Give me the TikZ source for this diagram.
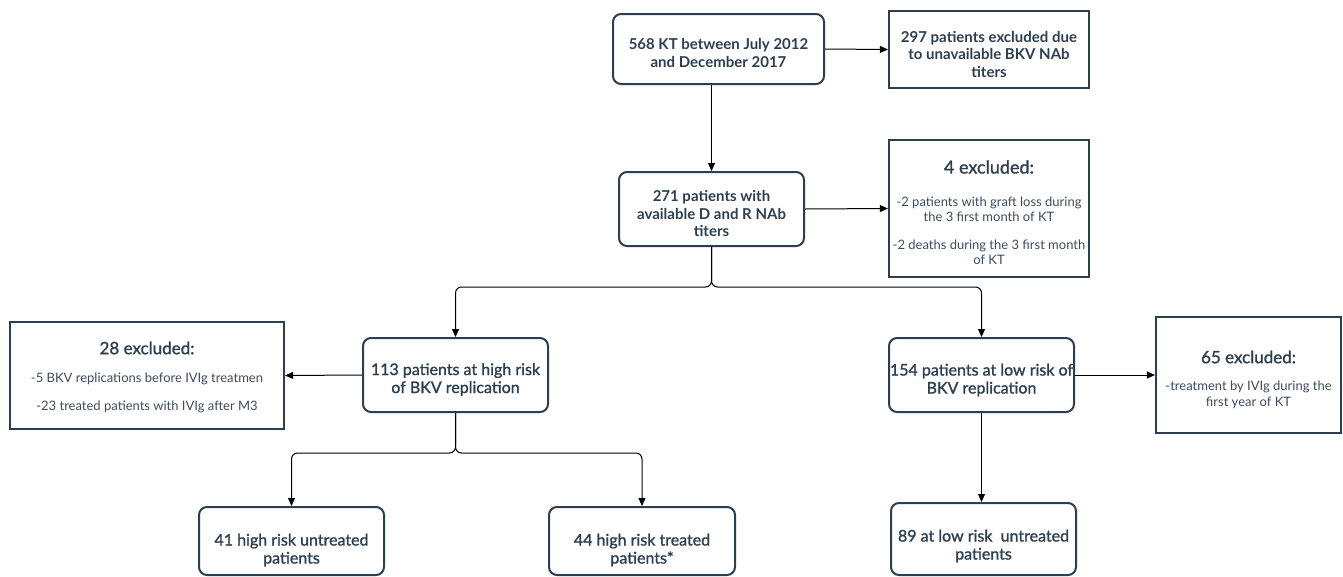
\documentclass[tikz,border=0pt]{standalone}
\usepackage{fontspec}
\setmainfont{Lato}
\newfontfamily\medfont[FakeBold=1.2]{Lato}
\usetikzlibrary{arrows.meta}
\definecolor{navy}{HTML}{2C3E50}
\definecolor{slate}{HTML}{3E4C5E}
\begin{document}
\begin{tikzpicture}[x=1pt,y=-1pt,
  rbox/.style={draw=navy, line width=2pt, rounded corners=8pt, inner sep=0pt},
  sbox/.style={draw=navy, line width=2.2pt, inner sep=0pt},
  btxt/.style={text=navy, align=center, font=\fontsize{15}{17.5}\selectfont\bfseries, inner sep=0pt},
  mtxt/.style={text=navy, align=center, font=\fontsize{16}{18}\selectfont\medfont, inner sep=0pt},
  head/.style={text=navy, font=\fontsize{17}{20}\selectfont\medfont, inner sep=0pt},
  body/.style={text=slate, align=center, font=\fontsize{13}{15.5}\selectfont, inner sep=0pt},
  arr/.style={-{Triangle[length=8pt,width=7pt]}, line width=1pt, black}]
\useasboundingbox (0,0) rectangle (1343,576);

% boxes
\node[rbox, minimum width=211, minimum height=70] (b1) at (718.5,49) {};
\node[sbox, minimum width=200, minimum height=77] (b2) at (989,49.5) {};
\node[rbox, minimum width=185, minimum height=74] (b3) at (711.5,209) {};
\node[sbox, minimum width=200, minimum height=137] (b4) at (989,208.5) {};
\node[sbox, minimum width=274, minimum height=107] (b5) at (147,375.5) {};
\node[rbox, minimum width=185, minimum height=74] (b6) at (455.5,375) {};
\node[rbox, minimum width=185, minimum height=74] (b7) at (981.5,375) {};
\node[sbox, minimum width=185, minimum height=116] (b8) at (1248.5,375) {};
\node[rbox, minimum width=185, minimum height=68] (b9) at (291.5,541) {};
\node[rbox, minimum width=186, minimum height=68] (b10) at (642,541) {};
\node[rbox, minimum width=185, minimum height=72] (b11) at (983.5,539) {};

% texts
\node[btxt] (t1) at (718.5,53) {568 KT between July 2012\\and December 2017};
\node[btxt] (t2) at (989,54) {297 patients excluded due\\to unavailable BKV NAb\\titers};
\node[btxt] (t3) at (711.5,213.5) {271 patients with\\available D and R NAb\\titers};
\node[mtxt] (t6) at (455.5,379.5) {113 patients at high risk\\of BKV replication};
\node[mtxt] (t7) at (981.5,380) {154 patients at low risk of\\BKV replication};
\node[mtxt] (t9) at (291.5,550) {41 high risk untreated\\patients};
\node[mtxt] (t10) at (642,550) {44 high risk treated\\patients*};
\node[mtxt] (t11) at (983.5,546) {89 at low risk\ \ untreated\\patients};

\node[head, font=\fontsize{18}{20}\selectfont\medfont] (h4) at (989,167) {4 excluded:};
\node[body] (t4a) at (989,209.5) {-2 patients with graft loss during\\the 3 first month of KT};
\node[body] (t4b) at (989,252.5) {-2 deaths during the 3 first month\\of KT};
\node[head] (h5) at (147,348) {28 excluded:};
\node[body] (t5a) at (147,379) {-5 BKV replications before IVIg treatmen};
\node[body] (t5b) at (147,407) {-23 treated patients with IVIg after M3};
\node[head] (h8) at (1248.5,357) {65 excluded:};
\node[body] (t8a) at (1248.5,395) {-treatment by IVIg during the\\first year of KT};

% connectors
\coordinate (s1) at (711.5,287);
\coordinate (s2) at (455.5,453);
\draw[arr] (b1.east) -- (b2.west);
\draw[arr] (b1.south -| b3.north) -- (b3.north);
\draw[arr] (b3.east) -- (b4.west);
\draw[arr, rounded corners=6pt] (b3.south) -- (s1) -| (b6.north);
\draw[arr, rounded corners=6pt] (b3.south) -- (s1) -| (b7.north);
\draw[arr] (b6.west) -- (b5.east);
\draw[arr] (b7.east) -- (b8.west);
\draw[arr, rounded corners=6pt] (b6.south) -- (s2) -| (b9.north);
\draw[arr, rounded corners=6pt] (b6.south) -- (s2) -| (b10.north);
\draw[arr] (b7.south) -- (b7.south |- b11.north);
\end{tikzpicture}
\end{document}
